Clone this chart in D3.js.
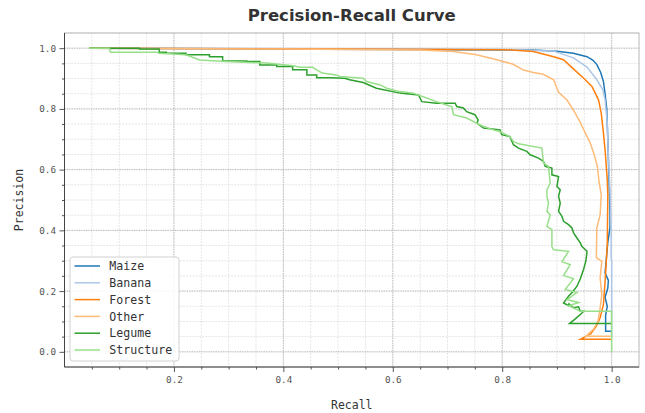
<!DOCTYPE html>
<html>
<head>
<meta charset="utf-8">
<script src="https://cdn.jsdelivr.net/npm/d3@7"></script>
<style>
  html, body { margin: 0; padding: 0; background: #fff; }
  svg { display: block; font-family: "DejaVu Sans Mono", "Liberation Mono", monospace; }
</style>
</head>
<body>
<svg id="chart" width="645" height="413"></svg>
<script>
// Class names and their line colours (tab20 pairs)
const seriesNames = ["Maize", "Banana", "Forest", "Other", "Legume", "Structure"];
const seriesColors = ["#1f77b4", "#aec7e8", "#ff7f0e", "#ffbb78", "#2ca02c", "#98df8a"];

// Precision-recall points per class: [recall, precision]
const maize = [
  [0.045, 1.0], [0.3, 0.998], [0.6, 0.996], [0.857, 0.994], [0.9, 0.99], [0.93, 0.983],
  [0.955, 0.972], [0.966, 0.96], [0.973, 0.946], [0.98, 0.92], [0.985, 0.89], [0.988, 0.85],
  [0.991, 0.8], [0.993, 0.7], [0.995, 0.58], [0.997, 0.45], [0.997, 0.41], [0.993, 0.36],
  [0.99, 0.3], [0.988, 0.26], [0.994, 0.235], [0.993, 0.21], [0.988, 0.18], [0.992, 0.15],
  [0.989, 0.12], [0.989, 0.068], [1.0, 0.068]
];
const banana = [
  [0.045, 1.0], [0.5, 0.998], [0.8, 0.996], [0.893, 0.991], [0.93, 0.968], [0.955, 0.938],
  [0.973, 0.896], [0.984, 0.863], [0.988, 0.83], [0.992, 0.754], [0.994, 0.643], [0.997, 0.534],
  [0.999, 0.4], [0.999, 0.31], [1.0, 0.3], [1.0, 0.05]
];
const forest = [
  [0.045, 1.0], [0.5, 0.997], [0.809, 0.995], [0.857, 0.989], [0.894, 0.972], [0.912, 0.962],
  [0.93, 0.932], [0.949, 0.901], [0.964, 0.874], [0.976, 0.83], [0.981, 0.786], [0.985, 0.72],
  [0.988, 0.665], [0.992, 0.567], [0.993, 0.517], [0.992, 0.353], [0.988, 0.232], [0.985, 0.156],
  [0.979, 0.112], [0.972, 0.085], [0.962, 0.06], [0.943, 0.041], [1.0, 0.041]
];
const other = [
  [0.045, 1.0], [0.4, 0.997], [0.65, 0.994], [0.711, 0.989], [0.753, 0.978], [0.79, 0.962],
  [0.82, 0.947], [0.839, 0.928], [0.857, 0.92], [0.875, 0.914], [0.894, 0.896], [0.903, 0.855],
  [0.918, 0.83], [0.93, 0.797], [0.943, 0.755], [0.952, 0.72], [0.961, 0.687], [0.968, 0.65],
  [0.974, 0.61], [0.977, 0.56], [0.981, 0.517], [0.979, 0.452], [0.973, 0.408], [0.972, 0.31],
  [0.982, 0.298], [0.979, 0.244], [0.982, 0.188], [0.979, 0.145], [0.975, 0.1], [0.967, 0.075],
  [0.953, 0.051], [1.0, 0.051]
];
const legume = [
  [0.045, 1.0], [0.137, 1.0], [0.137, 0.997], [0.173, 0.997], [0.173, 0.987], [0.186, 0.987],
  [0.186, 0.983], [0.222, 0.983], [0.222, 0.978], [0.265, 0.978], [0.265, 0.972], [0.289, 0.972],
  [0.289, 0.958], [0.333, 0.958], [0.333, 0.956], [0.357, 0.956], [0.357, 0.945], [0.388, 0.945],
  [0.388, 0.94], [0.417, 0.94], [0.417, 0.929], [0.443, 0.929], [0.443, 0.912], [0.461, 0.912],
  [0.461, 0.903], [0.485, 0.903], [0.512, 0.901], [0.521, 0.896], [0.546, 0.887], [0.57, 0.868],
  [0.613, 0.852], [0.647, 0.846], [0.653, 0.824], [0.68, 0.819], [0.714, 0.819], [0.717, 0.808],
  [0.729, 0.803], [0.735, 0.791], [0.75, 0.781], [0.756, 0.764], [0.754, 0.753], [0.766, 0.737],
  [0.796, 0.731], [0.799, 0.715], [0.814, 0.709], [0.815, 0.704], [0.8205, 0.682], [0.8297, 0.671],
  [0.845, 0.66], [0.851, 0.649], [0.8663, 0.638], [0.8755, 0.627], [0.8786, 0.6105], [0.8908, 0.605],
  [0.8908, 0.583], [0.903, 0.5776], [0.9, 0.5447], [0.906, 0.5339], [0.903, 0.512], [0.906, 0.49],
  [0.903, 0.4625], [0.9092, 0.446], [0.9121, 0.4296], [0.9212, 0.4188], [0.9275, 0.408],
  [0.9304, 0.3914], [0.9366, 0.375], [0.9427, 0.3586], [0.9458, 0.347], [0.955, 0.331],
  [0.953, 0.3], [0.9487, 0.271], [0.9426, 0.24], [0.9366, 0.216], [0.929, 0.198], [0.9212, 0.183],
  [0.912, 0.161], [0.9212, 0.152], [0.922, 0.158], [0.9304, 0.145], [0.9396, 0.148],
  [0.9427, 0.1336], [0.9487, 0.1336], [0.9458, 0.128], [0.9335, 0.1086], [0.923, 0.093], [1.0, 0.093]
];
const structure = [
  [0.045, 1.0], [0.082, 1.0], [0.084, 0.987], [0.168, 0.987], [0.173, 0.983], [0.222, 0.978],
  [0.247, 0.961], [0.295, 0.956], [0.369, 0.951], [0.418, 0.942], [0.43, 0.937], [0.453, 0.937],
  [0.471, 0.918], [0.497, 0.912], [0.503, 0.907], [0.546, 0.901], [0.552, 0.89], [0.577, 0.879],
  [0.589, 0.868], [0.613, 0.857], [0.637, 0.852], [0.662, 0.836], [0.68, 0.824], [0.698, 0.813],
  [0.708, 0.808], [0.711, 0.781], [0.735, 0.77], [0.753, 0.753], [0.766, 0.742], [0.784, 0.731],
  [0.796, 0.725], [0.814, 0.709], [0.8205, 0.693], [0.83, 0.685], [0.8725, 0.671], [0.8755, 0.622],
  [0.8846, 0.6105], [0.8877, 0.556], [0.8817, 0.533], [0.8817, 0.512], [0.8846, 0.49],
  [0.8817, 0.4625], [0.8877, 0.4516], [0.8817, 0.413], [0.8908, 0.4023], [0.8908, 0.347],
  [0.8938, 0.336], [0.9212, 0.331], [0.9092, 0.297], [0.9243, 0.287], [0.912, 0.251],
  [0.9304, 0.241], [0.915, 0.205], [0.9366, 0.195], [0.9183, 0.172], [0.9396, 0.162],
  [0.9212, 0.152], [0.9427, 0.1336], [1.0, 0.1336], [1.0, 0.0]
];
const seriesData = [maize, banana, forest, other, legume, structure];

// Axis ticks
const xTicks = [0.2, 0.4, 0.6, 0.8, 1.0];
const yTicks = [0.0, 0.2, 0.4, 0.6, 0.8, 1.0];
const xMinorTicks = d3.range(1, 21).map(i => +(i * 0.05).toFixed(2));
const yMinorTicks = d3.range(-1, 22).map(i => +(i * 0.05).toFixed(2));

const title = "Precision-Recall Curve";
const xLabel = "Recall";
const yLabel = "Precision";

// Layout
const plot = { left: 64.5, right: 639, top: 33, bottom: 367 };
const svg = d3.select("#chart");

const x = d3.scaleLinear().domain([0, 1.05]).range([plot.left, plot.right]);
const y = d3.scaleLinear().domain([-0.05, 1.05]).range([plot.bottom, plot.top]);

// Grid: minor then major
const grid = svg.append("g");
grid.selectAll("line.vminor").data(xMinorTicks).join("line")
  .attr("x1", d => x(d)).attr("x2", d => x(d))
  .attr("y1", plot.top).attr("y2", plot.bottom)
  .attr("stroke", "#d9d9d9").attr("stroke-width", 0.7).attr("stroke-dasharray", "2,1.2");
grid.selectAll("line.hminor").data(yMinorTicks).join("line")
  .attr("x1", plot.left).attr("x2", plot.right)
  .attr("y1", d => y(d)).attr("y2", d => y(d))
  .attr("stroke", "#d9d9d9").attr("stroke-width", 0.7).attr("stroke-dasharray", "2,1.2");
grid.selectAll("line.vmajor").data(xTicks).join("line")
  .attr("x1", d => x(d)).attr("x2", d => x(d))
  .attr("y1", plot.top).attr("y2", plot.bottom)
  .attr("stroke", "#a8a8a8").attr("stroke-width", 0.8).attr("stroke-dasharray", "1.2,1.2");
grid.selectAll("line.hmajor").data(yTicks).join("line")
  .attr("x1", plot.left).attr("x2", plot.right)
  .attr("y1", d => y(d)).attr("y2", d => y(d))
  .attr("stroke", "#a8a8a8").attr("stroke-width", 0.8).attr("stroke-dasharray", "1.2,1.2");

// Frame: light top/right, dark left/bottom
svg.append("rect")
  .attr("x", plot.left).attr("y", plot.top)
  .attr("width", plot.right - plot.left).attr("height", plot.bottom - plot.top)
  .attr("fill", "none").attr("stroke", "#b8b8b8").attr("stroke-width", 1);

// Curves
svg.append("clipPath").attr("id", "plotClip").append("rect")
  .attr("x", plot.left).attr("y", plot.top)
  .attr("width", plot.right - plot.left).attr("height", plot.bottom - plot.top);

const line = d3.line().x(d => x(d[0])).y(d => y(d[1])).curve(d3.curveLinear);
svg.append("g").attr("clip-path", "url(#plotClip)")
  .selectAll("path").data(seriesData).join("path")
  .attr("d", line)
  .attr("fill", "none")
  .attr("stroke", (d, i) => seriesColors[i])
  .attr("stroke-width", 1.5)
  .attr("stroke-linejoin", "miter");

// Axes
const fmt = d3.format(".1f");
const xAxis = svg.append("g").attr("transform", `translate(0,${plot.bottom})`)
  .call(d3.axisBottom(x).tickValues(xTicks).tickFormat(fmt).tickSize(5).tickPadding(4));
const xMinor = svg.append("g").attr("transform", `translate(0,${plot.bottom})`)
  .call(d3.axisBottom(x).tickValues(xMinorTicks.filter(v => !xTicks.includes(v))).tickFormat("").tickSize(2.5));
const yAxis = svg.append("g").attr("transform", `translate(${plot.left},0)`)
  .call(d3.axisLeft(y).tickValues(yTicks).tickFormat(fmt).tickSize(5).tickPadding(3.5));
const yMinor = svg.append("g").attr("transform", `translate(${plot.left},0)`)
  .call(d3.axisLeft(y).tickValues(yMinorTicks.filter(v => v >= 0 && v <= 1 && !yTicks.includes(v))).tickFormat("").tickSize(2.5));

[xAxis, xMinor, yAxis, yMinor].forEach(g => {
  g.select(".domain").attr("stroke", "#444").attr("stroke-width", 1);
  g.selectAll(".tick line").attr("stroke", "#444").attr("stroke-width", 0.9);
  g.selectAll(".tick text")
    .attr("fill", "#555")
    .style("font-family", "'DejaVu Sans Mono', monospace")
    .style("font-size", "9.3px");
});
xAxis.select(".domain").attr("d", `M${plot.left},0H${plot.right}`);
xMinor.select(".domain").remove();
yAxis.select(".domain").attr("d", `M0,${plot.bottom}V${plot.top}`);
yMinor.select(".domain").remove();

// Title and axis labels
svg.append("text")
  .attr("x", (plot.left + plot.right) / 2).attr("y", 21)
  .attr("text-anchor", "middle")
  .style("font-family", "'DejaVu Sans', sans-serif")
  .style("font-weight", "bold").style("font-size", "16.5px")
  .attr("fill", "#333").text(title);

svg.append("text")
  .attr("x", (plot.left + plot.right) / 2).attr("y", 408.5)
  .attr("text-anchor", "middle")
  .style("font-size", "11.5px").attr("fill", "#333").text(xLabel);

svg.append("text")
  .attr("transform", `translate(23,${(plot.top + plot.bottom) / 2}) rotate(-90)`)
  .attr("text-anchor", "middle")
  .style("font-size", "11.5px").attr("fill", "#333").text(yLabel);

// Legend
const legend = svg.append("g");
legend.append("rect")
  .attr("x", 70).attr("y", 257).attr("width", 109).attr("height", 104)
  .attr("rx", 3).attr("ry", 3)
  .attr("fill", "#fff").attr("fill-opacity", 0.85)
  .attr("stroke", "#cccccc").attr("stroke-width", 0.9);
const items = legend.selectAll("g.item").data(seriesNames).join("g")
  .attr("transform", (d, i) => `translate(0,${266 + i * 16.8})`);
items.append("line")
  .attr("x1", 74.5).attr("x2", 100).attr("y1", 0).attr("y2", 0)
  .attr("stroke", (d, i) => seriesColors[i]).attr("stroke-width", 1.5);
items.append("text")
  .attr("x", 109.3).attr("y", 0).attr("dy", "0.36em")
  .style("font-size", "11.6px").attr("fill", "#333")
  .text(d => d);
</script>
</body>
</html>
